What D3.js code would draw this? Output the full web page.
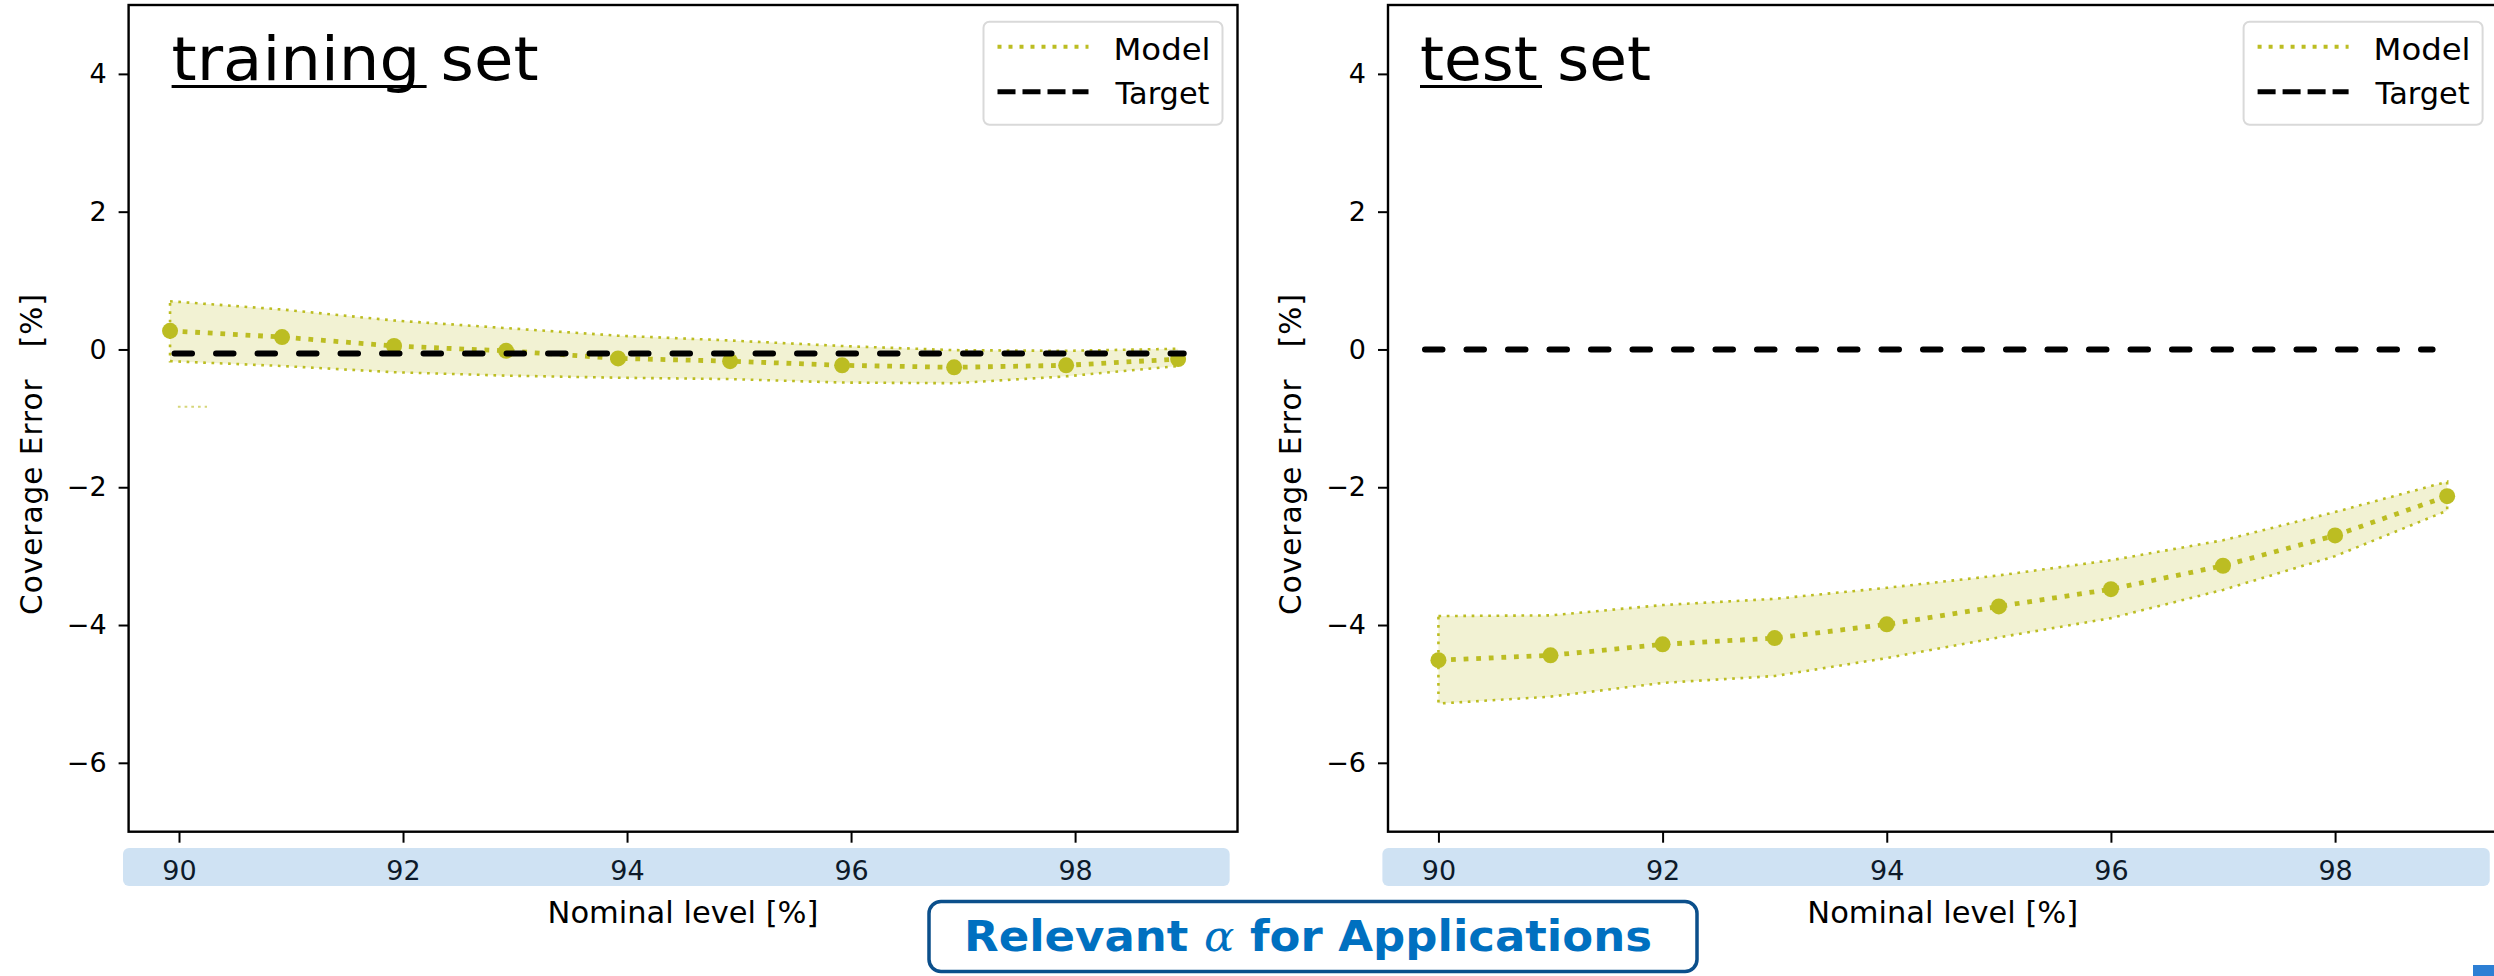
<!DOCTYPE html>
<html>
<head>
<meta charset="utf-8">
<script src="https://cdn.jsdelivr.net/npm/d3@7"></script>
<style>
  body { margin: 0; background: #fff; }
  svg text { font-family: "DejaVu Sans", sans-serif; }
</style>
</head>
<body>
<div id="chart"></div>
<script>
// values
const xTicks = [90, 92, 94, 96, 98],
      yTicks = [-6, -4, -2, 0, 2, 4];

// training set (slightly shifted in the source figure)
const trainX     = [89.92, 90.92, 91.92, 92.92, 93.92, 94.92, 95.92, 96.92, 97.92, 98.92],
      trainModel = [0.27, 0.18, 0.05, -0.02, -0.13, -0.17, -0.23, -0.26, -0.23, -0.14],
      trainUpper = [0.70, 0.58, 0.42, 0.31, 0.20, 0.13, 0.05, -0.01, -0.02, 0.01],
      trainLower = [-0.17, -0.24, -0.33, -0.38, -0.41, -0.43, -0.48, -0.49, -0.39, -0.24],
      trainTarget = [[89.96, -0.06], [98.97, -0.06]],
      trainStray  = [[89.99, -0.83], [90.25, -0.83]];

// test set
const testX     = [90, 91, 92, 93, 94, 95, 96, 97, 98, 99],
      testModel = [-4.51, -4.44, -4.28, -4.19, -3.99, -3.73, -3.48, -3.14, -2.70, -2.13],
      testUpper = [-3.87, -3.86, -3.71, -3.62, -3.46, -3.28, -3.06, -2.77, -2.36, -1.92],
      testLower = [-5.14, -5.04, -4.84, -4.74, -4.48, -4.18, -3.90, -3.49, -3.00, -2.34],
      testTarget = [[89.88, 0], [98.87, 0]];

const olive = "#bcbd22";
const W = 2494, H = 976;

const svg = d3.select("#chart").append("svg")
    .attr("width", W).attr("height", H);

const panels = [
  {title: "training", rest: " set", titleDx: 43, titleLen: 367, underLen: 255, left: 128.6, right: 1237.5,
   x: trainX, model: trainModel, upper: trainUpper, lower: trainLower, target: trainTarget, stray: trainStray},
  {title: "test", rest: " set", titleDx: 32, titleLen: 231, underLen: 122, left: 1388, right: 2497.6,
   x: testX, model: testModel, upper: testUpper, lower: testLower, target: testTarget, stray: null}
];
const plotTop = 5, plotBottom = 831.7;

const y = d3.scaleLinear().domain([-7, 5]).range([plotBottom, plotTop]);

panels.forEach(function(p) {
  const x = d3.scaleLinear().domain([89.55, 99.45]).range([p.left, p.right]);
  const g = svg.append("g");

  // blue strip behind the x tick labels
  g.append("rect")
    .attr("x", x(89.5)).attr("y", 848)
    .attr("width", x(99.38) - x(89.5)).attr("height", 38)
    .attr("rx", 6).attr("ry", 6)
    .attr("fill", "#cfe2f3");

  const pts = p.x.map((d, i) => ({x: d, m: p.model[i], lo: p.lower[i], hi: p.upper[i]}));

  // band
  const area = d3.area().x(d => x(d.x)).y0(d => y(d.lo)).y1(d => y(d.hi));
  g.append("path").datum(pts)
    .attr("d", area(pts) + "Z")
    .attr("fill", "rgba(188,189,34,0.2)")
    .attr("stroke", olive).attr("stroke-width", 2.6)
    .attr("stroke-dasharray", "2.7 5.6");

  if (p.stray) {
    g.append("path").datum(p.stray)
      .attr("d", d3.line().x(d => x(d[0])).y(d => y(d[1])))
      .attr("fill", "none").attr("stroke", "#d6d67a").attr("stroke-width", 2)
      .attr("stroke-dasharray", "2.7 4");
  }

  // model line + markers
  g.append("path").datum(pts)
    .attr("d", d3.line().x(d => x(d.x)).y(d => y(d.m)))
    .attr("fill", "none").attr("stroke", olive).attr("stroke-width", 4.8)
    .attr("stroke-dasharray", "4.8 7.8");
  g.selectAll(".pt").data(pts).enter().append("circle")
    .attr("cx", d => x(d.x)).attr("cy", d => y(d.m))
    .attr("r", 8).attr("fill", olive);

  // target
  g.append("path").datum(p.target)
    .attr("d", d3.line().x(d => x(d[0])).y(d => y(d[1])))
    .attr("fill", "none").attr("stroke", "#000").attr("stroke-width", 6)
    .attr("stroke-linecap", "round").attr("stroke-dasharray", "17.5 24");

  // frame
  g.append("rect")
    .attr("x", p.left).attr("y", plotTop)
    .attr("width", p.right - p.left).attr("height", plotBottom - plotTop)
    .attr("fill", "none").attr("stroke", "#000").attr("stroke-width", 2.4);

  // axes
  const yAxis = g.append("g").attr("transform", "translate(" + p.left + ",0)")
    .call(d3.axisLeft(y).tickValues(yTicks).tickSize(10).tickPadding(12)
      .tickFormat(d => d < 0 ? "\u2212" + Math.abs(d) : d));
  yAxis.select(".domain").remove();
  yAxis.selectAll("line").attr("stroke-width", 2);
  yAxis.selectAll("text").attr("font-size", 27).attr("fill", "#000")
    .attr("font-family", "DejaVu Sans");

  const xAxis = g.append("g").attr("transform", "translate(0," + plotBottom + ")")
    .call(d3.axisBottom(x).tickValues(xTicks).tickSize(11).tickPadding(18));
  xAxis.select(".domain").remove();
  xAxis.selectAll("line").attr("stroke-width", 2);
  xAxis.selectAll("text").attr("font-size", 27).attr("fill", "#0d1a2a")
    .attr("font-family", "DejaVu Sans");

  // axis labels
  g.append("text")
    .attr("transform", "translate(" + (p.left - 87) + ",454) rotate(-90)")
    .attr("text-anchor", "middle").attr("font-size", 29.5)
    .style("white-space", "pre").style("letter-spacing", "1px")
    .text("Coverage Error   [%]");
  g.append("text")
    .attr("x", (p.left + p.right) / 2).attr("y", 923)
    .attr("text-anchor", "middle").attr("font-size", 30.5)
    .text("Nominal level [%]");

  // title with underlined first word
  const t = g.append("text")
    .attr("x", p.left + p.titleDx).attr("y", 80)
    .attr("font-family", "Inter, sans-serif").attr("font-size", 60)
    .attr("textLength", p.titleLen).attr("lengthAdjust", "spacingAndGlyphs")
    .style("white-space", "pre");
  t.append("tspan").text(p.title);
  t.append("tspan").text(p.rest);
  g.append("line")
    .attr("x1", p.left + p.titleDx).attr("x2", p.left + p.titleDx + p.underLen)
    .attr("y1", 86.5).attr("y2", 86.5)
    .attr("stroke", "#000").attr("stroke-width", 3);

  // legend
  const lx = p.right - 15 - 239, ly = 21.7;
  const lg = g.append("g").attr("transform", "translate(" + lx + "," + ly + ")");
  lg.append("rect").attr("width", 239).attr("height", 103)
    .attr("rx", 6).attr("fill", "#fff").attr("stroke", "#d9d9d9").attr("stroke-width", 2);
  lg.append("line").attr("x1", 14).attr("x2", 105).attr("y1", 25).attr("y2", 25)
    .attr("stroke", olive).attr("stroke-width", 4).attr("stroke-dasharray", "4 7");
  lg.append("line").attr("x1", 14).attr("x2", 105).attr("y1", 70).attr("y2", 70)
    .attr("stroke", "#000").attr("stroke-width", 5).attr("stroke-dasharray", "18 7");
  lg.append("text").attr("x", 130).attr("y", 38.5)
    .attr("font-family", "Inter, sans-serif").attr("font-size", 30)
    .attr("textLength", 97).attr("lengthAdjust", "spacingAndGlyphs").text("Model");
  lg.append("text").attr("x", 132).attr("y", 82.5)
    .attr("font-family", "Inter, sans-serif").attr("font-size", 30)
    .attr("textLength", 94).attr("lengthAdjust", "spacingAndGlyphs").text("Target");
});

// call-out box at the bottom
svg.append("rect")
  .attr("x", 929).attr("y", 901.5).attr("width", 768).attr("height", 70)
  .attr("rx", 12).attr("fill", "#fff")
  .attr("stroke", "#0b4f8b").attr("stroke-width", 3.5);
const call = svg.append("text")
  .attr("x", 1308).attr("y", 951).attr("text-anchor", "middle")
  .attr("font-family", "Inter, sans-serif").attr("font-weight", 700)
  .attr("font-size", 42).attr("fill", "#0070c0")
  .attr("textLength", 688).attr("lengthAdjust", "spacingAndGlyphs")
  .style("white-space", "pre");
call.append("tspan").text("Relevant ");
call.append("tspan").attr("font-family", "DejaVu Serif").attr("font-style", "italic")
  .attr("font-weight", 400).text("\u03b1");
call.append("tspan").text(" for Applications");

// clipped mark at the very corner
svg.append("rect").attr("x", 2473).attr("y", 965).attr("width", 21).attr("height", 11)
  .attr("fill", "#2d7fd4");
</script>
</body>
</html>
